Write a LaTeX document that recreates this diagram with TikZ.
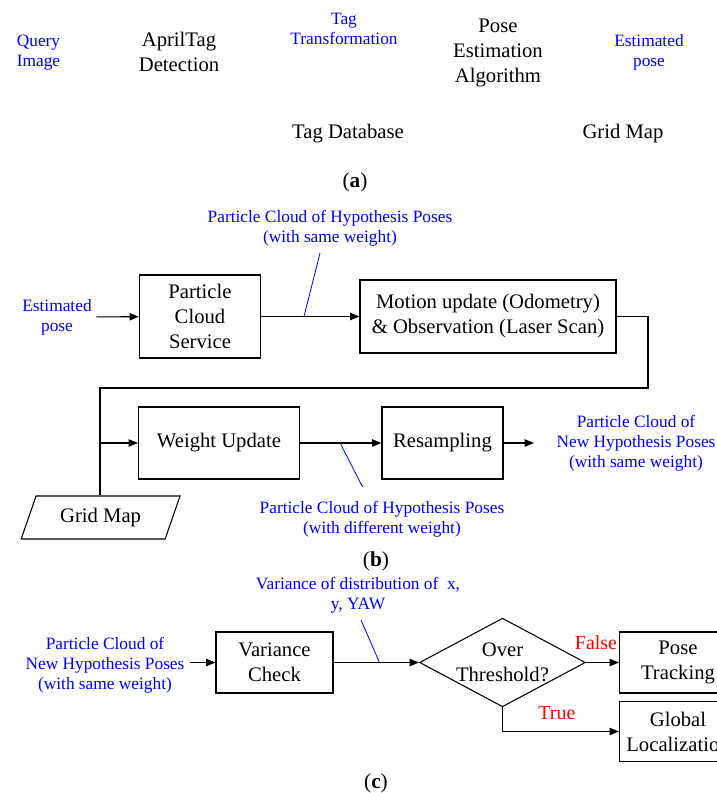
\documentclass[tikz,border=0pt]{standalone}
\usepackage{fontspec}
\setmainfont{Liberation Serif}
\usetikzlibrary{arrows.meta,shapes.geometric}

\begin{document}
\begin{tikzpicture}[x=0.75pt,y=-0.75pt,
  blk/.style={align=center,font=\fontsize{15.5}{18.75}\selectfont},
  blu/.style={align=center,text=blue,font=\fontsize{13}{15}\selectfont},
  rd/.style={text=red,font=\fontsize{15}{18}\selectfont},
  box/.style={blk,draw,line width=0.8pt,inner sep=0pt},
  arr/.style={-{Triangle[length=7pt,width=5.5pt]},line width=0.8pt},
  lead/.style={blue,line width=0.6pt},
  subcap/.style={font=\fontsize{16}{18}\selectfont}]
\clip (0,0) rectangle (717,793);
\path (38.5,52.5) node[blu] (qimg) {Query\\Image};
\path (179,52) node[blk] (atag) {AprilTag\\Detection};
\path (344,29) node[blu] (ttf) {Tag\\Transformation};
\path (498,52.5) node[blk] (pest) {Pose\\Estimation\\Algorithm};
\path (649,52.5) node[blu] (esta) {Estimated\\pose};
\path (348,134) node[blk] (tagdb) {Tag Database};
\path (623,134) node[blk] (gma) {Grid Map};
\path (355,182) node[subcap] (capa) {(\textbf{a})};

\path (330,228) node[blu] (pcl) {Particle Cloud of Hypothesis Poses\\(with same weight)};
\path (57,317) node[blu] (estb) {Estimated\\pose};
\path (200,316.5) node[box,minimum width=90.75pt,minimum height=62.25pt] (pcs) {Particle\\Cloud\\Service};
\path (488,316.5) node[box,minimum width=192pt,minimum height=54.75pt] (motion) {Motion update (Odometry)\\\& Observation (Laser Scan)};
\path (219,443) node[box,minimum width=120.75pt,minimum height=54pt] (wupd) {Weight Update};
\path (442.5,443) node[box,minimum width=90.75pt,minimum height=54pt] (resamp) {Resampling};
\path (636,443) node[blu] (newp) {Particle Cloud of\\New Hypothesis Poses\\(with same weight)};
\path (100.6,517.5) node[blk,draw,trapezium,trapezium left angle=63.5,trapezium right angle=116.5,trapezium stretches=true,minimum width=120pt,minimum height=32.25pt,line width=0.8pt,inner sep=0pt] (gmb) {Grid Map};
\path (382,519) node[blu] (pcd) {Particle Cloud of Hypothesis Poses\\(with different weight)};
\path (376,561) node[subcap] (capb) {(\textbf{b})};
\draw[arr] (estb) -- (pcs);
\draw[arr] (pcs) -- (motion);
\coordinate (turn) at (648,388);
\coordinate (split) at (100,388);
\draw[line width=0.8pt] (motion.east) -| (turn) -- (split) -- (split |- gmb.north);
\draw[arr] (split |- wupd) -- (wupd);
\draw[arr] (wupd) -- (resamp);
\coordinate (resout) at (534,443);
\draw[arr] (resamp) -- (resout);
\coordinate (l1) at (320,253);
\coordinate (l1e) at (304,316.5);
\draw[lead] (l1) -- (l1e);
\coordinate (l2) at (340.6,444);
\coordinate (l2e) at (362.6,487);
\draw[lead] (l2) -- (l2e);

\path (358,595.5) node[blu] (vard) {Variance of distribution of\ \ x,\\y, YAW};
\path (105,665) node[blu] (newq) {Particle Cloud of\\New Hypothesis Poses\\(with same weight)};
\path (274.5,662.5) node[box,minimum width=87.75pt,minimum height=45.75pt] (vchk) {Variance\\Check};
\path (502.5,662.5) node[blk,draw,diamond,shape aspect=1.87,inner sep=0pt,minimum width=119pt,minimum height=64pt,line width=0.8pt] (thr) {Over\\Threshold?};
\path (678,662.5) node[box,minimum width=87.75pt,minimum height=45.75pt] (ptrk) {Pose\\Tracking};
\path (678,731.5) node[box,minimum width=87.75pt,minimum height=45pt] (gloc) {Global\\Localization};
\path (596,643) node[rd] (fls) {False};
\path (557,713) node[rd] (tru) {True};
\path (376,783) node[subcap] (capc) {(\textbf{c})};
\coordinate (vin) at (190,662.5);
\draw[arr] (vin) -- (vchk);
\draw[arr] (vchk) -- (thr);
\draw[arr] (thr) -- (ptrk);
\draw[arr] (thr.south) |- (gloc);
\coordinate (l3) at (361,620);
\coordinate (l3e) at (379.5,662.5);
\draw[lead] (l3) -- (l3e);
\end{tikzpicture}
\end{document}
